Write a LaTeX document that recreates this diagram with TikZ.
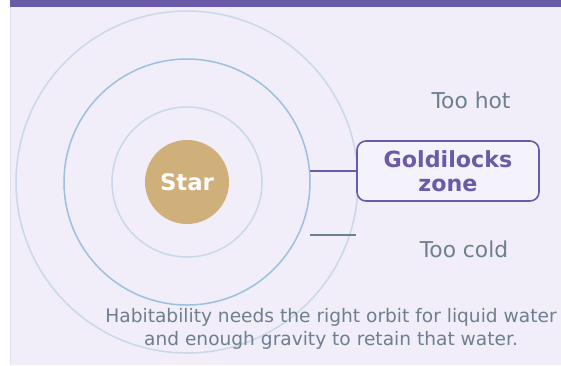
\documentclass[tikz,border=0pt]{standalone}
\usepackage{fontspec}
\setmainfont{DejaVu Sans}
\definecolor{panelbg}{HTML}{F1EDF9}
\definecolor{panelrim}{HTML}{DCE3F0}
\definecolor{violet}{HTML}{6B5AA8}
\definecolor{slate}{HTML}{6E7F8E}
\definecolor{sand}{HTML}{CFB07A}
\definecolor{orbitpale}{HTML}{C9D9E8}
\definecolor{orbitmid}{HTML}{9CC0DF}
\begin{document}
\begin{tikzpicture}[x=1pt, y=-1pt,
    orbit/.style = {draw=orbitpale, line width=1.5pt},
    note/.style = {text=slate, font=\fontsize{21.8}{26}\selectfont},
    tick/.style = {line width=1.5pt}]
			\useasboundingbox (0,0) rectangle (561,365);
			\fill[panelbg] (10,0) rectangle (561,365);
			\draw[panelrim, line width=1pt] (10.5,0) -- (10.5,365);
			\fill[violet] (10,0) rectangle (561,7);
			
			% orbits round the star
			\draw[orbit] (187,182) circle (171);
			\draw[orbit, draw=orbitmid] (187,182) circle (123);
			\draw[orbit] (187,182) circle (75);
			\node[circle, fill=sand, minimum size=84pt, inner sep=0pt, text=white,
				font=\fontsize{22.8}{26}\bfseries\selectfont] (star) at (187,182) {Star};
			
			\coordinate (hotend) at (310,171);
			\coordinate (coldend) at (310,235);
			\node[draw=violet, line width=1.6pt, rounded corners=9pt, fill=panelbg!75!white,
				minimum width=182pt, minimum height=60pt, align=center, text=violet,
				font=\fontsize{22.2}{23.5}\bfseries\selectfont] (zone) at (448,171) {Goldilocks\\zone};
			\draw[tick, violet] (hotend) -- (zone.west);
			\draw[tick, slate] (coldend) -- (coldend -| zone.west);
			
			\node[note] (hot) at (471,100) {Too hot};
			\node[note] (cold) at (464,249) {Too cold};
			\node[text=slate, align=center, font=\fontsize{18.6}{23}\selectfont] (caption) at (331,328.5)
				{Habitability needs the right orbit for liquid water\\and enough gravity to retain that water.};
		\end{tikzpicture}
\end{document}
